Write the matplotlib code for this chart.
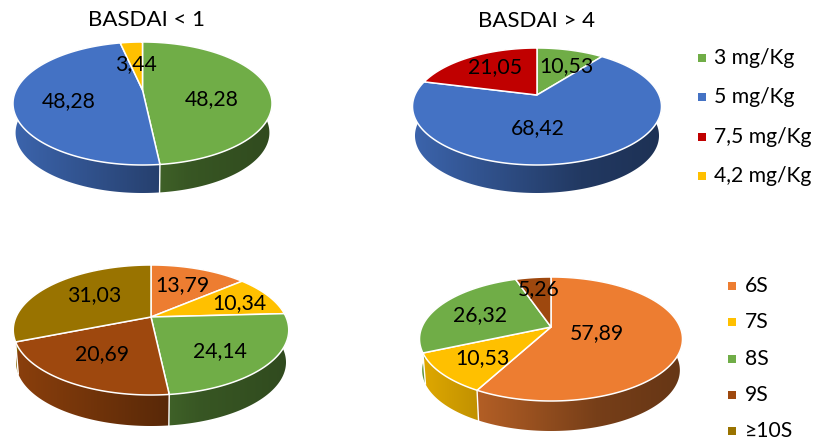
import numpy as np
import matplotlib
matplotlib.use('Agg')
from matplotlib import pyplot as plt
from matplotlib.colors import to_rgb
from matplotlib.patches import Polygon

plt.rcParams['font.family'] = ['Lato', 'DejaVu Sans']

DOSE_LABELS = ['3 mg/Kg', '5 mg/Kg', '7,5 mg/Kg', '4,2 mg/Kg']
DOSE_COLORS = ['#70AD47', '#4472C4', '#C00000', '#FFC000']
DOSE_LOW = [48.28, 48.28, 0, 3.44]
DOSE_HIGH = [10.53, 68.42, 21.05, 0]

WEEK_LABELS = ['6S', '7S', '8S', '9S', '≥10S']
WEEK_COLORS = ['#ED7D31', '#FFC000', '#70AD47', '#9E480E', '#997300']
WEEK_LOW = [13.79, 10.34, 24.14, 20.69, 31.03]
WEEK_HIGH = [57.89, 10.53, 26.32, 5.26, 0]

LABEL_SIZE = 15.3
LEGEND_SIZE = 15.2
TITLE_SIZE = 16


def fmt(v):
    return ('%.2f' % v).replace('.', ',')


def pie3d(ax, values, colors, left, right, top, bottom, ax0, ay0, depth, label_xy):
    # the disc is tilted, so the centre sits above the middle of the ellipse
    up = ay0 - top
    down = bottom - ay0
    p = (down - up) / (down + up)
    a = up * (1 + p)
    b = (right - left) / 2 * np.sqrt(1 - p * p)
    s = 0.98
    extra = depth + (1 - s) * a / (1 - p)

    def rim(t, scale=1.0, dy=0.0):
        u, v = np.sin(t), np.cos(t)
        w = 1 + p * v
        return ax0 + scale * b * u / w, ay0 + dy - scale * a * v / w

    values = np.array(values, dtype=float)
    edges = np.r_[0, np.cumsum(values)] / values.sum() * 2 * np.pi

    # side wall first, gradient image clipped to each slice
    pos = np.linspace(-1, 1, 300)
    fade = np.interp(pos, [-1, 0.35, 1], [0.88, 0.5, 0.43])
    for i, col in enumerate(colors):
        if values[i] == 0:
            continue
        t = np.linspace(edges[i], edges[i + 1], 200)
        x0, y0 = rim(t)
        x1, y1 = rim(t, s, extra)
        poly = Polygon(np.c_[np.r_[x0, x1[::-1]], np.r_[y0, y1[::-1]]],
                       closed=True, fc='none', ec='none', transform=ax.transData)
        ax.add_patch(poly)
        grad = np.outer(fade, to_rgb(col))[np.newaxis, :, :]
        im = ax.imshow(grad, extent=(left, right, bottom + depth, top), aspect='auto',
                       interpolation='bilinear', zorder=2)
        im.set_clip_path(poly)
        # white seam on the wall
        xe, ye = rim(edges[i + 1])
        xb, yb = rim(edges[i + 1], s, extra)
        if ye > ay0:
            ax.plot([xe, xb], [ye, yb], color='white', lw=1.0, zorder=3)

    # top face
    for i, col in enumerate(colors):
        if values[i] == 0:
            continue
        t = np.linspace(edges[i], edges[i + 1], 200)
        x, y = rim(t)
        ax.fill(np.r_[ax0, x], np.r_[ay0, y], facecolor=col, edgecolor='white',
                lw=1.1, joinstyle='round', zorder=4)

    k = 0
    for i, val in enumerate(values):
        if val == 0:
            continue
        ax.text(label_xy[k][0], label_xy[k][1], fmt(val), fontsize=LABEL_SIZE,
                color='black', ha='center', va='center', zorder=6)
        k += 1


def legend(ax, labels, colors, xm, xt, ys):
    for lab, col, y in zip(labels, colors, ys):
        ax.plot([xm], [y], 's', color=col, ms=5.6, mew=0, zorder=5)
        ax.text(xt, y, lab, fontsize=LEGEND_SIZE, color='black', ha='left', va='center')


fig = plt.figure(figsize=(8.16, 4.43), dpi=100)
ax = fig.add_axes([0, 0, 1, 1])

pie3d(ax, DOSE_LOW, DOSE_COLORS, 13, 272, 42, 165, 142.5, 90, 28,
      [(212, 99), (69, 101), (136, 64)])
pie3d(ax, DOSE_HIGH, DOSE_COLORS, 413, 662, 48, 165, 537, 95, 28,
      [(566, 66), (538, 128), (495, 67)])
pie3d(ax, WEEK_LOW, WEEK_COLORS, 13, 288.5, 265, 395, 151, 317, 31,
      [(182, 285), (239, 303), (220, 351), (102, 354), (94, 295)])
pie3d(ax, WEEK_HIGH, WEEK_COLORS, 420, 683, 277, 401, 551, 327, 30,
      [(597, 333), (482, 358), (480, 315), (539, 289)])

ax.text(147, 20, 'BASDAI < 1', fontsize=TITLE_SIZE, ha='center', va='center')
ax.text(537, 21, 'BASDAI > 4', fontsize=TITLE_SIZE, ha='center', va='center')

legend(ax, DOSE_LABELS, DOSE_COLORS, 702, 714, [58, 97, 137, 176])
legend(ax, WEEK_LABELS, WEEK_COLORS, 732, 745, [286, 322, 359, 395, 431])

ax.set_xlim(0, 816)
ax.set_ylim(443, 0)
ax.axis('off')

fig.savefig('out.png', dpi=100)
